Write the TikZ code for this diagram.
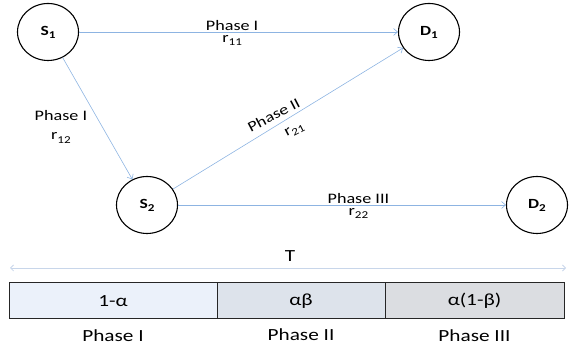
\documentclass[tikz,border=0pt]{standalone}
\usepackage{fontspec}
\setmainfont{Carlito}[FakeStretch=1.25]
\usetikzlibrary{arrows.meta,shapes.geometric}
\definecolor{edgeblue}{RGB}{141,180,226}
\definecolor{tline}{RGB}{200,214,234}
\definecolor{cellA}{RGB}{235,241,250}
\definecolor{cellB}{RGB}{221,227,235}
\definecolor{cellC}{RGB}{219,221,225}
\newcommand{\subidx}[1]{\raisebox{-0.45ex}{\fontsize{10.5}{12}\selectfont #1}}
\tikzset{
  station/.style={draw=black, line width=1.1pt, ellipse, minimum width=61pt, minimum height=57pt, inner sep=0pt, font=\fontsize{14}{16}\selectfont\bfseries},
  link/.style={draw=edgeblue, line width=0.6pt, -{Straight Barb[length=4pt,width=7pt]}},
  lbl/.style={font=\fontsize{14.5}{17}\selectfont, inner sep=1pt},
  cell/.style={draw=black!85, line width=1pt},
  celltxt/.style={font=\fontsize{17}{19}\selectfont},
}
\begin{document}
\begin{tikzpicture}[x=1pt,y=1pt]
\useasboundingbox (0,0) rectangle (575,352);
\node[station] (s1) at (48,320) {S\subidx{1}};
\node[station] (d1) at (429,320) {D\subidx{1}};
\node[station] (s2) at (147,147) {S\subidx{2}};
\node[station] (d2) at (537,147) {D\subidx{2}};

\path[link] (s1) -- (d1)
  node[lbl, pos=0.48, above=0pt] (l11a) {Phase I}
  node[lbl, pos=0.48, below=2pt] (l11b) {r\subidx{11}};
\path[link] (s1) -- (s2)
  node[lbl, pos=0.57, left=14pt, align=center] (l12) {Phase I\\[2pt]r\subidx{12}};
\path[link] (s2) -- (d1)
  node[lbl, pos=0.46, above=4pt, sloped, rotate=-4] (l21a) {Phase II}
  node[lbl, pos=0.5, below=7pt, sloped, rotate=-4] (l21b) {r\subidx{21}};
\path[link] (s2) -- (d2)
  node[lbl, pos=0.55, above=0pt] (l22a) {Phase III}
  node[lbl, pos=0.55, below=2pt] (l22b) {r\subidx{22}};

\coordinate (tl) at (10,84);
\coordinate (tr) at (566,84);
\draw[tline, line width=0.8pt, {Straight Barb[length=3pt,width=6pt]}-{Straight Barb[length=3pt,width=6pt]}] (tl) -- (tr);
\node[celltxt] (T) at (290,96) {T};

\draw[cell, fill=cellA] (9,33) rectangle (217,69);
\draw[cell, fill=cellB] (217,33) rectangle (385,69);
\draw[cell, fill=cellC] (385,33) rectangle (564,69);
\node[celltxt] (c1) at (113,51) {1-α};
\node[celltxt] (c2) at (301,51) {αβ};
\node[celltxt] (c3) at (474.5,51) {α(1-β)};
\node[celltxt] (p1) at (113,16) {Phase I};
\node[celltxt] (p2) at (301,17) {Phase II};
\node[celltxt] (p3) at (474.5,16) {Phase III};
\end{tikzpicture}
\end{document}
